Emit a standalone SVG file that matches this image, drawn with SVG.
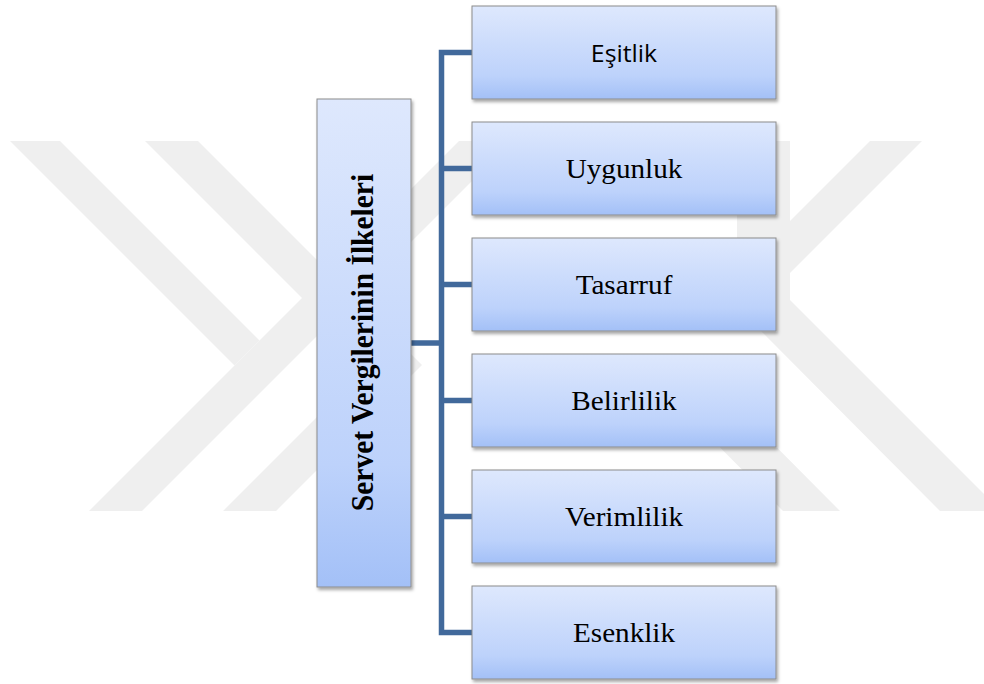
<svg xmlns="http://www.w3.org/2000/svg" width="984" height="684" viewBox="0 0 984 684">
<defs>
<linearGradient id="boxGrad" x1="0" y1="0" x2="0" y2="1">
<stop offset="0" stop-color="#dee8fd"/>
<stop offset="0.75" stop-color="#bdd2fb"/>
<stop offset="1" stop-color="#a3c0f7"/>
</linearGradient>
<filter id="shadow" x="-10%" y="-10%" width="130%" height="130%">
<feDropShadow dx="1.5" dy="2.5" stdDeviation="1.5" flood-color="#000" flood-opacity="0.35"/>
</filter>
</defs>
<style>
.wm{fill:#efefef}
.box{fill:url(#boxGrad);stroke:#8c8c8c;stroke-width:1;filter:url(#shadow)}
.lbl{font-family:"Liberation Serif","Times New Roman",serif;font-size:27px;fill:#000;text-anchor:middle}
.sans{font-family:"Open Sans","Liberation Sans",sans-serif;font-size:23px;fill:#000;text-anchor:middle}
.title{font-family:"Liberation Serif","Times New Roman",serif;font-size:29.5px;font-weight:bold;fill:#000;text-anchor:middle}
.conn{stroke:#41699b;stroke-width:5.5;fill:none;stroke-linejoin:miter}
</style>
<rect width="984" height="684" fill="#ffffff"/>
<g id="watermark">
<polygon class="wm" points="10,141 60,141 259.5,340.5 234.5,365.5"/>
<polygon class="wm" points="89,511 142,511 512,141 459,141"/>
<polygon class="wm" points="145,141 198,141 422,365 276,511 223,511 369,365"/>
<polygon class="wm" points="737,141 790,141 790,300 737,300"/>
<polygon class="wm" points="870,141 922,141 760,303 760,251"/>
<polygon class="wm" points="760,270 1001,511 940,511 760,330"/>
<polygon class="wm" points="783,511 840,511 710,380 653,380"/>
</g>
<g id="connectors">
<path class="conn" d="M472,52.5 H441.5 V632.5 H472"/>
<path class="conn" d="M441.5,168.5 H472 M441.5,284.5 H472 M441.5,400.5 H472 M441.5,516.5 H472 M411,343 H441.5"/>
</g>
<g id="root">
<rect class="box" x="317" y="99" width="94" height="488"/>
<text class="title" transform="translate(373,342.5) rotate(-90) scale(1,1.06)">Servet Vergilerinin İlkeleri</text>
</g>
<g id="esitlik">
<rect class="box" x="472" y="6" width="304" height="93"/>
<text class="sans" transform="translate(624,62) scale(1.08,1)">Eşitlik</text>
</g>
<g id="uygunluk">
<rect class="box" x="472" y="122" width="304" height="93"/>
<text class="lbl" transform="translate(624,178) scale(1.08,1)">Uygunluk</text>
</g>
<g id="tasarruf">
<rect class="box" x="472" y="238" width="304" height="93"/>
<text class="lbl" transform="translate(624,294) scale(1.08,1)">Tasarruf</text>
</g>
<g id="belirlilik">
<rect class="box" x="472" y="354" width="304" height="93"/>
<text class="lbl" transform="translate(624,410) scale(1.08,1)">Belirlilik</text>
</g>
<g id="verimlilik">
<rect class="box" x="472" y="470" width="304" height="93"/>
<text class="lbl" transform="translate(624,526) scale(1.08,1)">Verimlilik</text>
</g>
<g id="esenklik">
<rect class="box" x="472" y="586" width="304" height="93"/>
<text class="lbl" transform="translate(624,642) scale(1.08,1)">Esenklik</text>
</g>
</svg>
